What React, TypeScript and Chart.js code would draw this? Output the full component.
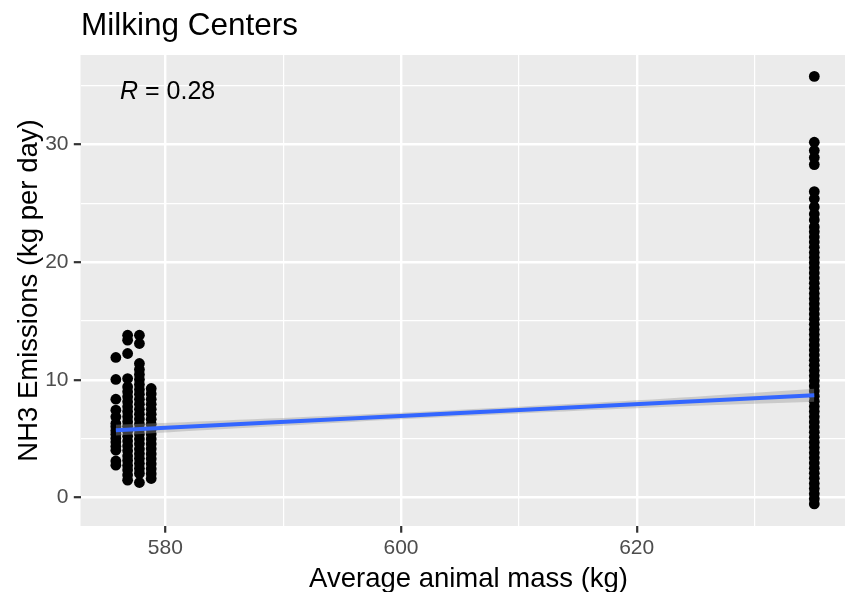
import React, { useEffect, useRef } from 'react';
import { Chart, registerables } from 'chart.js';

Chart.register(...registerables);

// ---- text ----
const chartTitle = 'Milking Centers';
const xAxisTitle = 'Average animal mass (kg)';
const yAxisTitle = 'NH3 Emissions (kg per day)';
const corrName = 'R';
const corrValue = ' = 0.28';

// ---- axes ----
const xMin = 572.8;
const xMax = 638.66;
const yMin = -2.43;
const yMax = 37.62;
const xMajorTicks = [580, 600, 620];
const yMajorTicks = [0, 10, 20, 30];

// ---- data: average mass groups (kg) ----
const massA = 575.8;
const massB = 576.8;
const massC = 577.8;
const massD = 578.8;
const massE = 635.07;

// ---- data: NH3 emissions (kg per day) per mass group ----
const emissionsA = [2.74, 3.1, 4.02, 4.35, 4.71, 5.03, 5.38, 5.66, 6.0, 6.29, 6.85, 7.42, 8.35, 10.03, 11.9];
const emissionsB = [1.47, 1.9, 2.33, 2.71, 3.15, 3.52, 3.96, 4.38, 4.79, 5.2, 5.63, 6.05, 6.44, 6.87, 7.3, 7.71, 8.13, 8.55, 8.98, 9.4, 10.11, 12.24, 13.37, 13.79];
const emissionsC = [1.27, 2.04, 2.45, 2.88, 3.3, 3.71, 4.12, 4.56, 4.97, 5.4, 5.81, 6.23, 6.66, 7.08, 7.5, 7.93, 8.34, 8.77, 9.18, 9.6, 10.03, 10.45, 10.88, 11.39, 13.09, 13.79];
const emissionsD = [1.61, 2.02, 2.44, 2.86, 3.29, 3.7, 4.13, 4.55, 4.97, 5.39, 5.8, 6.22, 6.65, 7.07, 7.49, 7.92, 8.34, 8.8, 9.26];
const emissionsE = [
  -0.55, -0.12, 0.31, 0.76, 1.18, 1.62, 2.05, 2.49, 2.93, 3.37, 3.8, 4.24, 4.68, 5.11, 5.55, 5.99,
  6.42, 6.86, 7.3, 7.73, 8.17, 8.61, 9.04, 9.48, 9.92, 10.35, 10.79, 11.23, 11.66, 12.1, 12.54,
  12.97, 13.41, 13.85, 14.28, 14.72, 15.16, 15.59, 16.03, 16.47, 16.9, 17.34, 17.78, 18.21, 18.65,
  19.09, 19.52, 19.96, 20.4, 20.83, 21.27, 21.71, 22.14, 22.58, 23.0, 23.6, 24.1, 24.7, 25.4, 26.0,
  28.3, 28.9, 29.5, 30.2, 35.8,
];

// ---- linear fit and confidence band ----
const fitX = [575.8, 635.07];
const fitY = [5.72, 8.69];
const bandX = [575.8, 585, 595, 605, 615, 625, 635.07];
const bandUpper = [6.17, 6.54, 6.98, 7.46, 7.98, 8.57, 9.24];
const bandLower = [5.27, 5.82, 6.38, 6.9, 7.38, 7.8, 8.14];

const FONT = '"Liberation Sans", Arial, Helvetica, sans-serif';

const pts = (x: number, ys: number[]) => ys.map((y) => ({ x, y }));

export default function App() {
  const canvasRef = useRef<HTMLCanvasElement | null>(null);

  useEffect(() => {
    const canvas = canvasRef.current;
    if (!canvas) return;

    const scatterData = [
      ...pts(massA, emissionsA),
      ...pts(massB, emissionsB),
      ...pts(massC, emissionsC),
      ...pts(massD, emissionsD),
      ...pts(massE, emissionsE),
    ];

    const decor = {
      id: 'decor',
      beforeDraw(chart: any) {
        const { ctx, chartArea } = chart;
        ctx.save();
        ctx.fillStyle = '#EBEBEB';
        ctx.fillRect(chartArea.left, chartArea.top, chartArea.right - chartArea.left, chartArea.bottom - chartArea.top);
        ctx.restore();
      },
      afterDraw(chart: any) {
        const { ctx, chartArea } = chart;
        ctx.save();
        ctx.fillStyle = '#000000';
        ctx.textBaseline = 'alphabetic';
        // title
        ctx.font = `31.5px ${FONT}`;
        ctx.textAlign = 'left';
        ctx.fillText(chartTitle, chartArea.left + 0.5, 35);
        // x axis title
        ctx.font = `27.5px ${FONT}`;
        ctx.textAlign = 'center';
        ctx.fillText(xAxisTitle, (chartArea.left + chartArea.right) / 2, 586.5);
        // y axis title
        ctx.save();
        ctx.translate(37, (chartArea.top + chartArea.bottom) / 2);
        ctx.rotate(-Math.PI / 2);
        ctx.fillText(yAxisTitle, 0, 0);
        ctx.restore();
        // R label
        ctx.textAlign = 'left';
        ctx.font = `italic 25px ${FONT}`;
        const rx = chartArea.left + 39.5;
        const ry = chartArea.top + 44;
        ctx.fillText(corrName, rx, ry);
        const w = ctx.measureText(corrName).width;
        ctx.font = `25px ${FONT}`;
        ctx.fillText(corrValue, rx + w, ry);
        ctx.restore();
      },
    };

    const isMajorX = (v: number) => xMajorTicks.includes(v);
    const isMajorY = (v: number) => yMajorTicks.includes(v);

    const chart = new Chart(canvas, {
      type: 'scatter',
      data: {
        datasets: [
          {
            label: 'fit',
            data: fitX.map((x, i) => ({ x, y: fitY[i] })),
            showLine: true,
            borderColor: '#3366FF',
            borderWidth: 4,
            pointRadius: 0,
            fill: false,
            order: 1,
          } as any,
          {
            label: 'upper',
            data: bandX.map((x, i) => ({ x, y: bandUpper[i] })),
            showLine: true,
            borderWidth: 0,
            borderColor: 'rgba(0,0,0,0)',
            backgroundColor: 'rgba(153,153,153,0.4)',
            pointRadius: 0,
            fill: '+1',
            tension: 0.3,
            order: 2,
          },
          {
            label: 'lower',
            data: bandX.map((x, i) => ({ x, y: bandLower[i] })),
            showLine: true,
            borderWidth: 0,
            borderColor: 'rgba(0,0,0,0)',
            pointRadius: 0,
            fill: false,
            tension: 0.3,
            order: 2,
          },
          {
            label: 'points',
            data: scatterData,
            pointRadius: 5.4,
            pointBorderWidth: 0,
            pointBackgroundColor: '#000000',
            backgroundColor: '#000000',
            borderColor: '#000000',
            order: 3,
          },
        ],
      },
      options: {
        animation: false,
        responsive: false,
        devicePixelRatio: 1,
        layout: { padding: { top: 55, right: 3, bottom: 0, left: 0 } },
        plugins: {
          legend: { display: false },
          tooltip: { enabled: false },
          title: { display: false },
        },
        scales: {
          x: {
            type: 'linear',
            min: xMin,
            max: xMax,
            afterFit: (scale: any) => {
              scale.height = 66;
            },
            border: { display: false },
            grid: {
              color: '#FFFFFF',
              lineWidth: (ctx: any) => (isMajorX(ctx.tick?.value) ? 2.4 : 1.2),
              tickColor: (ctx: any) => (isMajorX(ctx.tick?.value) ? '#333333' : 'rgba(0,0,0,0)'),
              tickWidth: 2.2,
              tickLength: 6.7,
              drawTicks: true,
            },
            ticks: {
              stepSize: 10,
              includeBounds: false,
              maxRotation: 0,
              autoSkip: false,
              padding: 3,
              color: '#4D4D4D',
              font: { family: FONT, size: 21 },
              callback: (v: any) => (isMajorX(Number(v)) ? String(v) : ''),
            },
          },
          y: {
            type: 'linear',
            min: yMin,
            max: yMax,
            afterFit: (scale: any) => {
              scale.width = 80.5;
            },
            border: { display: false },
            grid: {
              color: '#FFFFFF',
              lineWidth: (ctx: any) => (isMajorY(ctx.tick?.value) ? 2.4 : 1.2),
              tickColor: (ctx: any) => (isMajorY(ctx.tick?.value) ? '#333333' : 'rgba(0,0,0,0)'),
              tickWidth: 2.2,
              tickLength: 6.7,
              drawTicks: true,
            },
            ticks: {
              stepSize: 5,
              includeBounds: false,
              autoSkip: false,
              padding: 5.3,
              color: '#4D4D4D',
              font: { family: FONT, size: 21 },
              callback: (v: any) => (isMajorY(Number(v)) ? String(v) : ''),
            },
          },
        },
      },
      plugins: [decor],
    } as any);

    return () => {
      chart.destroy();
    };
  }, []);

  return (
    <div
      style={{
        position: 'absolute',
        left: 0,
        top: 0,
        width: 845,
        height: 592,
        overflow: 'hidden',
        background: '#FFFFFF',
      }}
    >
      <canvas ref={canvasRef} width={862} height={592} style={{ display: 'block' }} />
    </div>
  );
}
